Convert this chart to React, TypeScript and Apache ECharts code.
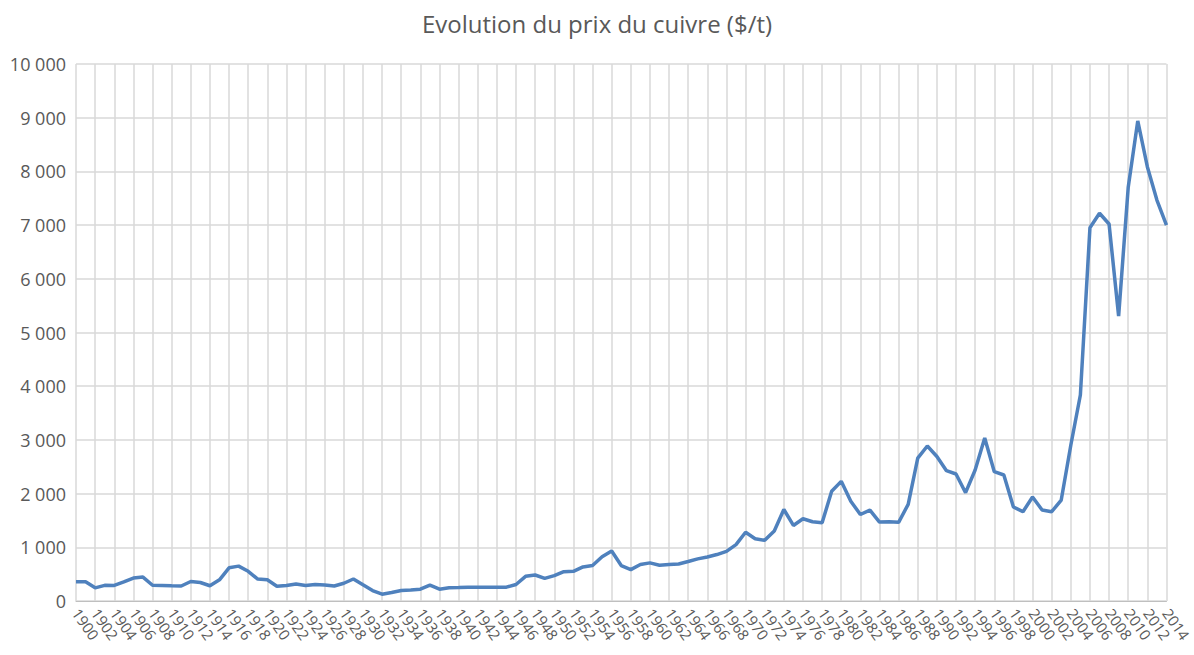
import React, { useEffect, useRef } from "react";
import * as echarts from "echarts";

const title = "Evolution du prix du cuivre ($/t)";

const firstYear = 1900;
const lastYear = 2014;
const years: number[] = [];
for (let y = firstYear; y <= lastYear; y++) years.push(y);

const prices1900s = [357, 357, 245, 292, 290, 355, 427, 446, 293, 290, 284, 280, 363, 344, 284, 395, 618, 649, 553, 408];
const prices1920s = [395, 274, 290, 318, 290, 306, 300, 280, 331, 410, 302, 195, 126, 157, 195, 207, 220, 296, 220, 245];
const prices1940s = [251, 258, 258, 258, 258, 258, 308, 459, 484, 421, 472, 547, 553, 635, 660, 824, 931, 660, 585, 679];
const prices1960s = [710, 665, 680, 690, 735, 785, 820, 865, 925, 1050, 1280, 1160, 1130, 1305, 1704, 1407, 1531, 1475, 1457, 2043];
const prices1980s = [2228, 1858, 1611, 1691, 1469, 1475, 1465, 1800, 2660, 2886, 2690, 2427, 2365, 2017, 2440, 3035, 2408, 2346, 1750, 1663];
const prices2000s = [1937, 1695, 1663, 1880, 2900, 3836, 6950, 7220, 7020, 5307, 7700, 8940, 8088, 7467, 7000];

const prices = [...prices1900s, ...prices1920s, ...prices1940s, ...prices1960s, ...prices1980s, ...prices2000s];

const fmt = (v: number) => {
  const s = String(Math.round(v));
  return s.replace(/\B(?=(\d{3})+(?!\d))/g, " ");
};

export default function App() {
  const ref = useRef<HTMLDivElement>(null);
  useEffect(() => {
    document.body.style.margin = "0";
    if (!ref.current) return;
    const chart = echarts.init(ref.current, undefined, { renderer: "svg" });
    chart.setOption({
      animation: false,
      backgroundColor: "#ffffff",
      title: {
        text: title,
        left: "center",
        top: 6,
        textStyle: { fontFamily: "Open Sans", fontSize: 24, fontWeight: "normal", color: "#595959" },
      },
      grid: { left: 76, right: 24, top: 64, bottom: 54, containLabel: false },
      xAxis: {
        type: "value",
        min: firstYear,
        max: lastYear,
        interval: 2,
        axisLine: { show: true, lineStyle: { color: "#bfbfbf", width: 1 } },
        axisTick: { show: false },
        axisLabel: {
          formatter: (v: number) => String(v),
          hideOverlap: false,
          showMinLabel: true,
          showMaxLabel: true,
          rotate: -55,
          margin: 9,
          fontFamily: "Open Sans",
          fontSize: 15,
          color: "#595959",
        },
        splitLine: { show: true, lineStyle: { color: "#d9d9d9", width: 1.5 } },
      },
      yAxis: {
        type: "value",
        min: 0,
        max: 10000,
        interval: 1000,
        axisLine: { show: false },
        axisTick: { show: false },
        axisLabel: {
          formatter: fmt,
          margin: 10,
          fontFamily: "Open Sans",
          fontSize: 18,
          color: "#595959",
        },
        splitLine: { show: true, lineStyle: { color: "#d9d9d9", width: 1.5 } },
      },
      series: [
        {
          type: "line",
          data: years.map((y, i) => [y, prices[i]]),
          showSymbol: false,
          symbol: "none",
          lineStyle: { color: "#4f81bd", width: 3.5 },
          itemStyle: { color: "#4f81bd" },
        },
      ],
    });
    return () => chart.dispose();
  }, []);
  return <div ref={ref} style={{ width: 1194, height: 655 }} />;
}
